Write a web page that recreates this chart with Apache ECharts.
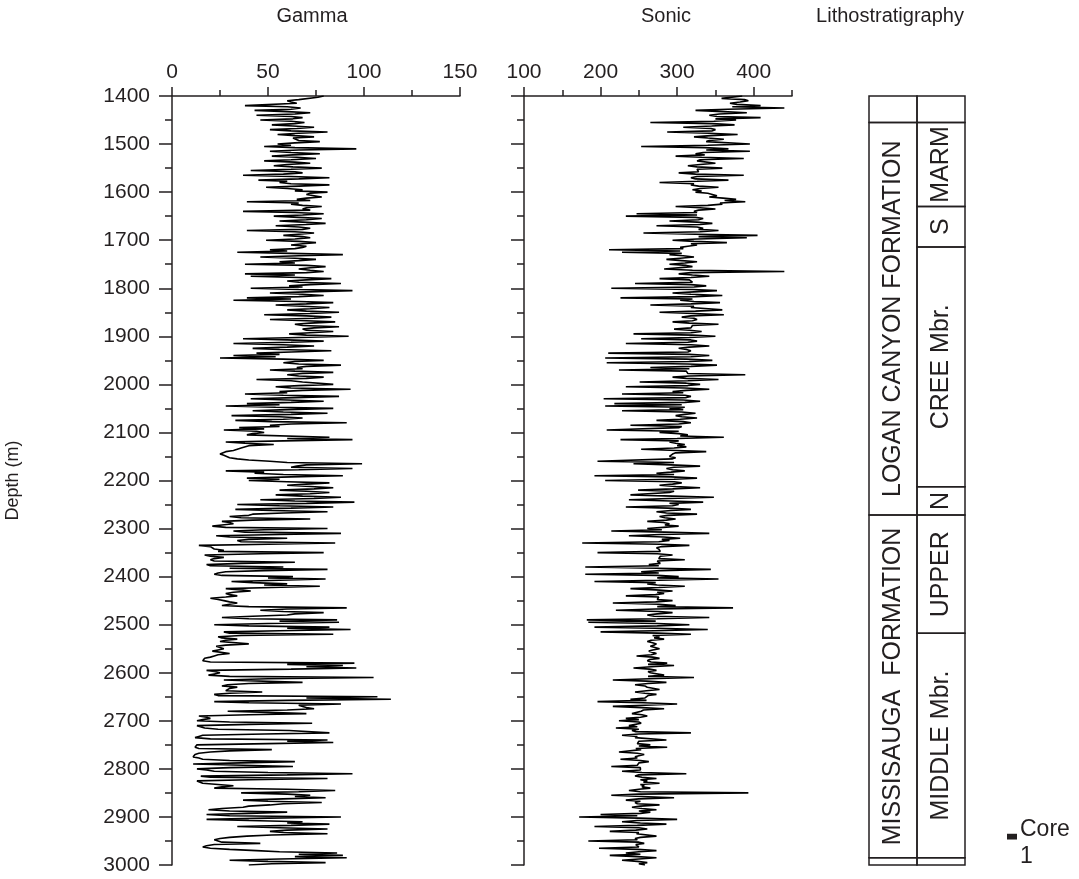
<!DOCTYPE html>
<html>
<head>
<meta charset="utf-8">
<script src="https://cdn.jsdelivr.net/npm/echarts@6/dist/echarts.min.js"></script>
<style>
  html, body { margin: 0; padding: 0; background: #ffffff; }
  #chart { width: 1079px; height: 879px; }
</style>
</head>
<body>
<div id="chart"></div>
<script>
// log samples every 2.5 m from 1400 m
var depthTop = 1400;
var depthStep = 2.5;

// gamma (API), one row per 100 m
var gamma = [
  79, 76, 75, 66, 60, 62, 65, 64, 38, 60, 67, 62, 43, 60, 72, 64, 44, 62, 68, 63, 46, 62, 69, 64, 52, 63, 74, 65, 51, 62, 81, 66, 55, 64, 74, 63, 62, 66, 77, 64,
  55, 62, 48, 64, 96, 66, 51, 62, 77, 63, 52, 65, 75, 62, 48, 64, 72, 60, 53, 63, 78, 62, 41, 64, 68, 58, 37, 62, 82, 66, 45, 60, 56, 62, 82, 66, 49, 60, 68, 64,
  81, 72, 70, 74, 78, 70, 65, 72, 39, 66, 62, 68, 78, 70, 68, 72, 37, 64, 79, 68, 53, 66, 78, 70, 56, 68, 80, 70, 54, 66, 72, 68, 39, 64, 74, 66, 58, 68, 72, 64,
  49, 66, 75, 68, 62, 70, 68, 64, 51, 60, 34, 62, 89, 66, 46, 64, 75, 66, 56, 64, 38, 70, 80, 72, 66, 72, 79, 70, 38, 64, 41, 66, 83, 70, 60, 66, 88, 72, 61, 68,
  41, 66, 94, 70, 51, 68, 79, 66, 39, 62, 32, 66, 84, 70, 54, 68, 82, 72, 60, 70, 87, 72, 48, 70, 83, 74, 51, 70, 85, 72, 64, 68, 87, 74, 68, 70, 84, 72, 61, 70,
  92, 66, 37, 60, 79, 62, 32, 58, 74, 60, 42, 56, 83, 62, 44, 56, 32, 54, 25, 58, 79, 64, 58, 66, 88, 70, 65, 68, 51, 64, 84, 68, 60, 66, 79, 70, 44, 62, 68, 68,
  84, 66, 54, 62, 93, 68, 56, 60, 38, 58, 87, 64, 41, 60, 79, 62, 39, 56, 28, 54, 84, 60, 42, 58, 81, 62, 31, 56, 68, 58, 33, 52, 91, 62, 51, 56, 35, 48, 27, 44,
  48, 42, 39, 40, 82, 60, 94, 58, 28, 38, 53, 40, 41, 36, 35, 32, 28, 28, 25, 27, 27, 30, 34, 40, 51, 60, 99, 70, 65, 62, 94, 66, 28, 48, 43, 58, 89, 62, 39, 56,
  40, 60, 82, 70, 60, 72, 84, 74, 56, 70, 82, 72, 54, 68, 88, 74, 46, 64, 95, 70, 34, 56, 84, 62, 33, 52, 81, 58, 42, 40, 30, 36, 72, 42, 26, 30, 32, 26, 21, 28,
  81, 48, 32, 38, 88, 56, 23, 30, 60, 40, 34, 36, 85, 50, 14, 20, 20, 22, 27, 24, 79, 46, 17, 20, 27, 22, 20, 22, 64, 36, 18, 20, 58, 30, 81, 48, 28, 24, 22, 26,
  63, 50, 80, 56, 31, 42, 60, 48, 77, 52, 28, 36, 41, 32, 28, 30, 34, 28, 20, 24, 27, 30, 34, 30, 26, 40, 91, 60, 46, 58, 79, 64, 60, 42, 26, 40, 86, 56, 87, 50,
  22, 40, 82, 60, 93, 56, 27, 30, 84, 36, 24, 26, 34, 28, 25, 26, 40, 28, 23, 24, 27, 24, 21, 22, 30, 24, 22, 20, 17, 18, 16, 20, 95, 60, 89, 70, 96, 62, 18, 22,
  25, 22, 19, 30, 105, 50, 27, 28, 68, 40, 29, 26, 34, 30, 29, 28, 47, 30, 22, 24, 107, 70, 114, 60, 22, 40, 88, 66, 68, 70, 74, 60, 29, 50, 70, 40, 14, 18, 20, 16,
  13, 30, 73, 40, 13, 14, 17, 24, 61, 62, 82, 48, 16, 14, 12, 20, 81, 60, 84, 50, 13, 12, 12, 14, 52, 30, 20, 14, 12, 12, 11, 14, 16, 30, 64, 36, 11, 12, 63, 30,
  13, 18, 22, 50, 94, 60, 15, 20, 81, 40, 13, 14, 16, 24, 32, 26, 22, 60, 85, 66, 36, 60, 72, 64, 80, 58, 37, 50, 78, 58, 51, 40, 37, 26, 19, 30, 60, 40, 18, 30,
  88, 50, 18, 40, 68, 60, 82, 62, 34, 56, 81, 60, 51, 58, 81, 52, 39, 30, 25, 22, 22, 26, 46, 22, 18, 16, 20, 30, 44, 56, 86, 66, 89, 64, 91, 56, 30, 50, 80, 52,
  40
];

// sonic (us/m), one row per 100 m
var sonic = [
  385, 385, 358, 388, 393, 382, 369, 378, 409, 372, 440, 366, 324, 360, 391, 355, 342, 352, 409, 350, 377, 348, 265, 346, 375, 345, 308, 344, 350, 346, 287, 342, 379, 344, 322, 340, 361, 342, 338, 338,
  395, 340, 253, 336, 367, 338, 395, 334, 324, 336, 298, 332, 387, 330, 326, 328, 350, 330, 314, 326, 359, 326, 326, 328, 302, 324, 387, 326, 318, 324, 367, 326, 277, 322, 318, 328, 354, 330, 320, 332,
  324, 340, 342, 352, 342, 360, 377, 362, 389, 356, 359, 340, 298, 330, 350, 328, 322, 326, 247, 326, 233, 324, 334, 328, 290, 326, 346, 330, 273, 326, 334, 328, 354, 330, 256, 324, 405, 328, 391, 326,
  294, 322, 365, 318, 326, 314, 304, 308, 211, 304, 228, 306, 290, 308, 322, 304, 286, 306, 326, 310, 290, 312, 320, 318, 283, 320, 440, 318, 302, 320, 342, 318, 277, 316, 314, 320, 245, 318, 338, 322,
  214, 320, 352, 322, 294, 318, 359, 324, 226, 320, 304, 322, 356, 318, 265, 322, 318, 320, 359, 324, 277, 322, 361, 318, 306, 322, 326, 320, 294, 316, 354, 320, 318, 318, 296, 316, 332, 318, 243, 320,
  350, 316, 253, 318, 326, 314, 233, 318, 342, 316, 302, 312, 318, 314, 210, 316, 342, 318, 206, 312, 346, 316, 208, 314, 352, 318, 265, 316, 224, 312, 314, 314, 389, 316, 294, 312, 354, 314, 251, 312,
  330, 314, 233, 310, 342, 312, 294, 308, 228, 310, 318, 312, 204, 308, 330, 310, 218, 306, 206, 310, 290, 308, 228, 306, 324, 310, 298, 306, 326, 304, 273, 308, 318, 302, 239, 306, 302, 304, 208, 302,
  277, 302, 314, 304, 361, 300, 226, 302, 290, 298, 310, 300, 312, 296, 253, 300, 338, 298, 294, 296, 290, 298, 294, 294, 196, 296, 243, 292, 330, 296, 286, 294, 310, 292, 273, 296, 192, 292, 326, 296,
  206, 296, 306, 294, 277, 298, 330, 294, 249, 296, 290, 292, 239, 294, 348, 290, 237, 292, 334, 290, 302, 294, 233, 288, 318, 292, 273, 286, 326, 288, 277, 284, 298, 286, 261, 282, 290, 284, 302, 282,
  261, 280, 214, 284, 342, 278, 237, 282, 304, 280, 290, 276, 176, 278, 316, 280, 273, 276, 277, 278, 196, 274, 294, 278, 277, 276, 310, 274, 273, 278, 263, 276, 180, 274, 344, 278, 253, 276, 180, 274,
  302, 274, 354, 276, 192, 272, 261, 274, 310, 276, 239, 272, 294, 274, 283, 272, 233, 276, 277, 274, 294, 272, 216, 276, 298, 274, 373, 272, 220, 276, 294, 274, 261, 270, 342, 274, 182, 272, 184, 274,
  316, 274, 192, 272, 340, 270, 200, 274, 318, 268, 277, 270, 283, 266, 261, 268, 273, 270, 265, 266, 277, 268, 263, 264, 273, 266, 247, 268, 277, 264, 261, 266, 287, 262, 296, 266, 243, 264, 273, 262,
  265, 264, 283, 262, 322, 264, 216, 260, 286, 262, 245, 258, 261, 262, 277, 260, 245, 258, 273, 262, 263, 258, 239, 260, 196, 256, 300, 258, 216, 254, 283, 256, 253, 252, 241, 254, 261, 252, 233, 250,
  224, 250, 253, 252, 237, 248, 220, 250, 241, 246, 318, 250, 228, 248, 245, 246, 286, 250, 249, 248, 265, 250, 287, 246, 253, 252, 224, 248, 257, 250, 245, 248, 226, 252, 263, 250, 251, 248, 214, 252,
  253, 252, 228, 254, 312, 250, 245, 254, 273, 252, 261, 256, 277, 252, 257, 254, 265, 250, 237, 252, 393, 250, 214, 254, 296, 250, 233, 252, 245, 248, 277, 252, 241, 254, 273, 250, 265, 252, 200, 248,
  172, 250, 300, 248, 228, 252, 286, 248, 192, 250, 261, 246, 212, 250, 247, 248, 273, 252, 245, 248, 184, 250, 257, 246, 245, 250, 198, 248, 273, 250, 233, 252, 212, 248, 273, 250, 228, 248, 261, 250,
  258
];

var gammaLabels = [0, 50, 100, 150];
var sonicLabels = [100, 200, 300, 400];
var sonicMinor = [150, 250, 350, 450];

// lithostratigraphy: formation column and member column (top / base in m)
var formationTops = [1400, 1455, 2272, 2985];
var formationBases = [1455, 2272, 2985, 3000];
var formationNames = ['', 'LOGAN CANYON FORMATION', 'MISSISAUGA  FORMATION', ''];
var memberTops = [1400, 1455, 1630, 1714, 2213, 2272, 2518, 2985];
var memberBases = [1455, 1630, 1714, 2213, 2272, 2518, 2985, 3000];
var memberNames = ['', 'MARM', 'S', 'CREE Mbr.', 'N', 'UPPER', 'MIDDLE Mbr.', ''];

var coreTops = [2935];
var coreBases = [2947];
var coreNames = ['1'];

var ink = '#231f20';
var font = '"Liberation Sans", Arial, Helvetica, sans-serif';

function toPairs(values) {
  return values.map(function (v, i) {
    return [v, depthTop + i * depthStep];
  });
}

var lithoData = [];
var lithoNames = [];
formationTops.forEach(function (t, i) {
  lithoData.push([0, t, formationBases[i]]);
  lithoNames.push(formationNames[i]);
});
memberTops.forEach(function (t, i) {
  lithoData.push([1, t, memberBases[i]]);
  lithoNames.push(memberNames[i]);
});

var coreData = coreTops.map(function (t, i) { return [2, t, coreBases[i]]; });

function renderUnit(params, api) {
  var col = api.value(0);
  var a = api.coord([col, api.value(1)]);
  var b = api.coord([col + 1, api.value(2)]);
  var name = lithoNames[params.dataIndex];
  var children = [{
    type: 'rect',
    shape: { x: a[0], y: a[1], width: b[0] - a[0], height: b[1] - a[1] },
    style: { fill: 'none', stroke: ink, lineWidth: 1.5 }
  }];
  if (name) {
    children.push({
      type: 'text',
      x: (a[0] + b[0]) / 2,
      y: (a[1] + b[1]) / 2,
      rotation: Math.PI / 2,
      style: {
        text: name, fill: ink, font: '25px ' + font,
        align: 'center', verticalAlign: 'middle'
      }
    });
  }
  return { type: 'group', children: children };
}

function renderCore(params, api) {
  var a = api.coord([api.value(0), api.value(1)]);
  var b = api.coord([api.value(0), api.value(2)]);
  var x = a[0] + 42;
  var mid = (a[1] + b[1]) / 2;
  return {
    type: 'group',
    children: [
      { type: 'rect', shape: { x: x, y: a[1], width: 10, height: b[1] - a[1] }, style: { fill: ink } },
      { type: 'text', x: x + 13, y: mid - 7, style: { text: 'Core', fill: ink, font: '23px ' + font, align: 'left', verticalAlign: 'middle' } },
      { type: 'text', x: x + 13, y: mid + 20, style: { text: coreNames[params.dataIndex], fill: ink, font: '23px ' + font, align: 'left', verticalAlign: 'middle' } }
    ]
  };
}

var depthAxis = {
  type: 'value',
  inverse: true,
  min: 1400,
  max: 3000,
  interval: 100,
  axisLine: { show: true, onZero: false, lineStyle: { color: ink, width: 1.5 } },
  axisTick: { show: true, length: 13, lineStyle: { color: ink, width: 1.5 } },
  minorTick: { show: true, splitNumber: 2, length: 7, lineStyle: { color: ink, width: 1.5 } },
  splitLine: { show: false },
  axisLabel: { show: false }
};

var chart = echarts.init(document.getElementById('chart'));
var option = {
  backgroundColor: '#ffffff',
  animation: false,
  textStyle: { fontFamily: font },
  title: [
    { text: 'Gamma', left: 312, top: 6, textAlign: 'center', padding: 0,
      textStyle: { color: ink, fontSize: 20, fontWeight: 'normal', fontFamily: font } },
    { text: 'Sonic', left: 666, top: 6, textAlign: 'center', padding: 0,
      textStyle: { color: ink, fontSize: 20, fontWeight: 'normal', fontFamily: font } },
    { text: 'Lithostratigraphy', left: 890, top: 6, textAlign: 'center', padding: 0,
      textStyle: { color: ink, fontSize: 20, fontWeight: 'normal', fontFamily: font } }
  ],
  grid: [
    { left: 172, top: 96, width: 288, height: 769, containLabel: false, outerBoundsMode: 'none' },
    { left: 524, top: 96, width: 268, height: 769, containLabel: false, outerBoundsMode: 'none' },
    { left: 869, top: 96, width: 96, height: 769, containLabel: false, outerBoundsMode: 'none' }
  ],
  xAxis: [
    {
      type: 'value', gridIndex: 0, position: 'top', min: 0, max: 150, interval: 50,
      axisLine: { show: true, onZero: false, lineStyle: { color: ink, width: 1.5 } },
      axisTick: { show: true, length: 9, lineStyle: { color: ink, width: 1.5 } },
      minorTick: { show: true, splitNumber: 2, length: 6, lineStyle: { color: ink, width: 1.5 } },
      splitLine: { show: false },
      axisLabel: { color: ink, fontSize: 21, margin: 13, fontFamily: font, customValues: gammaLabels }
    },
    {
      type: 'value', gridIndex: 1, position: 'top', min: 100, max: 450, interval: 50,
      axisLine: { show: true, onZero: false, lineStyle: { color: ink, width: 1.5 } },
      axisTick: { show: true, length: 9, customValues: sonicLabels, lineStyle: { color: ink, width: 1.5 } },
      splitLine: { show: false },
      axisLabel: { color: ink, fontSize: 21, margin: 13, fontFamily: font, customValues: sonicLabels }
    },
    {
      type: 'value', gridIndex: 1, position: 'top', min: 100, max: 450, interval: 50,
      axisLine: { show: false, onZero: false },
      axisTick: { show: true, length: 6, customValues: sonicMinor, lineStyle: { color: ink, width: 1.5 } },
      splitLine: { show: false },
      axisLabel: { show: false }
    },
    { type: 'value', gridIndex: 2, min: 0, max: 2, show: false }
  ],
  yAxis: [
    Object.assign({}, depthAxis, {
      gridIndex: 0,
      name: 'Depth (m)',
      nameLocation: 'middle',
      nameGap: 150,
      nameRotate: 90,
      nameTextStyle: { color: ink, fontSize: 18, fontFamily: font },
      axisLabel: {
        show: true, color: ink, fontSize: 21, margin: 22, fontFamily: font,
        formatter: function (v) { return String(v); }
      }
    }),
    Object.assign({}, depthAxis, { gridIndex: 1 }),
    { type: 'value', gridIndex: 2, inverse: true, min: 1400, max: 3000, show: false }
  ],
  series: [
    {
      name: 'Gamma', type: 'line', xAxisIndex: 0, yAxisIndex: 0,
      data: toPairs(gamma), showSymbol: false, symbol: 'none',
      lineStyle: { color: '#000000', width: 1.6 }
    },
    {
      name: 'Sonic', type: 'line', xAxisIndex: 1, yAxisIndex: 1,
      data: toPairs(sonic), showSymbol: false, symbol: 'none',
      lineStyle: { color: '#000000', width: 1.6 }
    },
    {
      name: 'Lithostratigraphy', type: 'custom', xAxisIndex: 3, yAxisIndex: 2,
      encode: { x: 0, y: [1, 2] }, renderItem: renderUnit, data: lithoData, silent: true
    },
    {
      name: 'Core', type: 'custom', xAxisIndex: 3, yAxisIndex: 2,
      encode: { x: 0, y: [1, 2] }, renderItem: renderCore, data: coreData, silent: true
    }
  ]
};
chart.setOption(option);
</script>
</body>
</html>
